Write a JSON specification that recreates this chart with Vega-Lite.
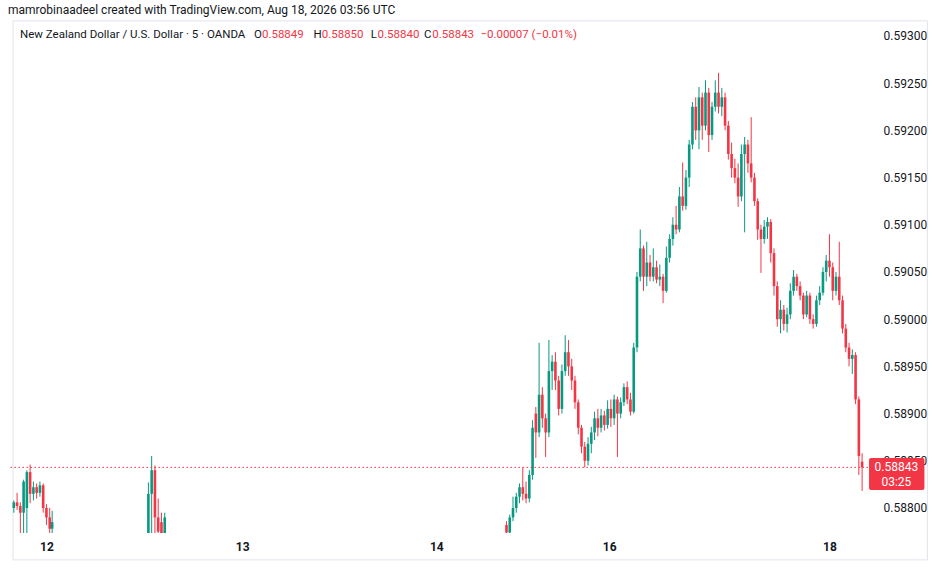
{
  "$schema": "https://vega.github.io/schema/vega-lite/v6.json",
  "width": 864,
  "height": 511,
  "autosize": {"type": "none"},
  "padding": {"left": 8, "top": 22, "right": 68, "bottom": 37},
  "background": "white",
  "title": {
    "text": "mamrobinaadeel created with TradingView.com, Aug 18, 2026 03:56 UTC",
    "anchor": "start",
    "frame": "group",
    "font": "Roboto",
    "fontSize": 12,
    "fontWeight": "normal",
    "color": "#131722",
    "offset": 3
  },
  "config": {"view": {"stroke": null}, "font": "Roboto"},
  "data": {
    "values": [
      {"t": -4.0, "o": 0.58800, "h": 0.58808, "l": 0.58795, "c": 0.58806},
      {"t": -3.6, "o": 0.58806, "h": 0.58816, "l": 0.58798, "c": 0.58802},
      {"t": -3.2, "o": 0.58802, "h": 0.58806, "l": 0.58770, "c": 0.58795},
      {"t": -2.8, "o": 0.58795, "h": 0.58830, "l": 0.58760, "c": 0.58828},
      {"t": -2.4, "o": 0.58800, "h": 0.58840, "l": 0.58760, "c": 0.58838},
      {"t": -2.0, "o": 0.58838, "h": 0.58846, "l": 0.58805, "c": 0.58815},
      {"t": -1.6, "o": 0.58815, "h": 0.58828, "l": 0.58808, "c": 0.58822},
      {"t": -1.2, "o": 0.58822, "h": 0.58826, "l": 0.58810, "c": 0.58816},
      {"t": -0.8, "o": 0.58816, "h": 0.58828, "l": 0.58812, "c": 0.58824},
      {"t": -0.4, "o": 0.58824, "h": 0.58826, "l": 0.58795, "c": 0.58800},
      {"t": 0.0, "o": 0.58800, "h": 0.58804, "l": 0.58782, "c": 0.58790},
      {"t": 0.4, "o": 0.58790, "h": 0.58800, "l": 0.58760, "c": 0.58778},
      {"t": 0.7, "o": 0.58778, "h": 0.58797, "l": 0.58760, "c": 0.58785},
      {"t": 12.5, "o": 0.58760, "h": 0.58827, "l": 0.58760, "c": 0.58815},
      {"t": 12.9, "o": 0.58815, "h": 0.58855, "l": 0.58770, "c": 0.58840},
      {"t": 13.3, "o": 0.58840, "h": 0.58845, "l": 0.58760, "c": 0.58790},
      {"t": 13.7, "o": 0.58790, "h": 0.58810, "l": 0.58760, "c": 0.58775},
      {"t": 14.1, "o": 0.58785, "h": 0.58795, "l": 0.58760, "c": 0.58770},
      {"t": 14.5, "o": 0.58770, "h": 0.58795, "l": 0.58760, "c": 0.58790},
      {"t": 56.4, "o": 0.58782, "h": 0.58786, "l": 0.58770, "c": 0.58774},
      {"t": 56.8, "o": 0.58774, "h": 0.58793, "l": 0.58770, "c": 0.58790},
      {"t": 57.2, "o": 0.58790, "h": 0.58812, "l": 0.58786, "c": 0.58800},
      {"t": 57.6, "o": 0.58800, "h": 0.58816, "l": 0.58795, "c": 0.58812},
      {"t": 58.0, "o": 0.58812, "h": 0.58826, "l": 0.58805, "c": 0.58822},
      {"t": 58.4, "o": 0.58822, "h": 0.58843, "l": 0.58808, "c": 0.58815},
      {"t": 58.8, "o": 0.58815, "h": 0.58828, "l": 0.58805, "c": 0.58810},
      {"t": 59.2, "o": 0.58810, "h": 0.58840, "l": 0.58806, "c": 0.58835},
      {"t": 59.6, "o": 0.58835, "h": 0.58893, "l": 0.58830, "c": 0.58885},
      {"t": 60.0, "o": 0.58900, "h": 0.58907, "l": 0.58853, "c": 0.58880},
      {"t": 60.4, "o": 0.58880, "h": 0.58975, "l": 0.58875, "c": 0.58920},
      {"t": 60.8, "o": 0.58920, "h": 0.58928, "l": 0.58885, "c": 0.58895},
      {"t": 61.2, "o": 0.58895, "h": 0.58900, "l": 0.58854, "c": 0.58880},
      {"t": 61.6, "o": 0.58880, "h": 0.58978, "l": 0.58875, "c": 0.58945},
      {"t": 62.0, "o": 0.58945, "h": 0.58962, "l": 0.58925, "c": 0.58955},
      {"t": 62.4, "o": 0.58955, "h": 0.58965, "l": 0.58925, "c": 0.58935},
      {"t": 62.8, "o": 0.58935, "h": 0.58940, "l": 0.58898, "c": 0.58905},
      {"t": 63.2, "o": 0.58905, "h": 0.58952, "l": 0.58900, "c": 0.58945},
      {"t": 63.6, "o": 0.58945, "h": 0.58983, "l": 0.58940, "c": 0.58965},
      {"t": 64.0, "o": 0.58965, "h": 0.58978, "l": 0.58940, "c": 0.58950},
      {"t": 64.4, "o": 0.58950, "h": 0.58958, "l": 0.58925, "c": 0.58935},
      {"t": 64.8, "o": 0.58935, "h": 0.58940, "l": 0.58905, "c": 0.58912},
      {"t": 65.2, "o": 0.58912, "h": 0.58915, "l": 0.58878, "c": 0.58885},
      {"t": 65.6, "o": 0.58885, "h": 0.58888, "l": 0.58858, "c": 0.58865},
      {"t": 66.0, "o": 0.58865, "h": 0.58870, "l": 0.58843, "c": 0.58850},
      {"t": 66.4, "o": 0.58850, "h": 0.58875, "l": 0.58845, "c": 0.58868},
      {"t": 66.8, "o": 0.58868, "h": 0.58886, "l": 0.58858, "c": 0.58880},
      {"t": 67.2, "o": 0.58880, "h": 0.58902, "l": 0.58872, "c": 0.58895},
      {"t": 67.6, "o": 0.58895, "h": 0.58905, "l": 0.58876, "c": 0.58885},
      {"t": 68.0, "o": 0.58885, "h": 0.58905, "l": 0.58880, "c": 0.58898},
      {"t": 68.4, "o": 0.58898, "h": 0.58903, "l": 0.58882, "c": 0.58888},
      {"t": 68.8, "o": 0.58888, "h": 0.58914, "l": 0.58884, "c": 0.58905},
      {"t": 69.2, "o": 0.58905, "h": 0.58915, "l": 0.58886, "c": 0.58895},
      {"t": 69.6, "o": 0.58895, "h": 0.58920, "l": 0.58888, "c": 0.58915},
      {"t": 70.0, "o": 0.58915, "h": 0.58918, "l": 0.58854, "c": 0.58900},
      {"t": 70.4, "o": 0.58900, "h": 0.58917, "l": 0.58895, "c": 0.58912},
      {"t": 70.8, "o": 0.58912, "h": 0.58932, "l": 0.58908, "c": 0.58928},
      {"t": 71.2, "o": 0.58928, "h": 0.58934, "l": 0.58910, "c": 0.58915},
      {"t": 71.6, "o": 0.58915, "h": 0.58922, "l": 0.58898, "c": 0.58902},
      {"t": 72.0, "o": 0.58902, "h": 0.58975, "l": 0.58900, "c": 0.58970},
      {"t": 72.4, "o": 0.58970, "h": 0.59050, "l": 0.58965, "c": 0.59045},
      {"t": 72.8, "o": 0.59045, "h": 0.59095, "l": 0.59040, "c": 0.59075},
      {"t": 73.2, "o": 0.59075, "h": 0.59078, "l": 0.59030, "c": 0.59045},
      {"t": 73.6, "o": 0.59045, "h": 0.59082, "l": 0.59035, "c": 0.59060},
      {"t": 74.0, "o": 0.59060, "h": 0.59068, "l": 0.59040, "c": 0.59045},
      {"t": 74.4, "o": 0.59045, "h": 0.59075, "l": 0.59040, "c": 0.59055},
      {"t": 74.8, "o": 0.59055, "h": 0.59062, "l": 0.59038, "c": 0.59042},
      {"t": 75.2, "o": 0.59042, "h": 0.59058, "l": 0.59035, "c": 0.59045},
      {"t": 75.6, "o": 0.59045, "h": 0.59048, "l": 0.59017, "c": 0.59030},
      {"t": 76.0, "o": 0.59030, "h": 0.59077, "l": 0.59028, "c": 0.59065},
      {"t": 76.4, "o": 0.59065, "h": 0.59090, "l": 0.59060, "c": 0.59085},
      {"t": 76.8, "o": 0.59085, "h": 0.59108, "l": 0.59078, "c": 0.59100},
      {"t": 77.2, "o": 0.59100, "h": 0.59120, "l": 0.59090, "c": 0.59095},
      {"t": 77.6, "o": 0.59095, "h": 0.59140, "l": 0.59092, "c": 0.59130},
      {"t": 78.0, "o": 0.59130, "h": 0.59166, "l": 0.59115, "c": 0.59120},
      {"t": 78.4, "o": 0.59120, "h": 0.59158, "l": 0.59116, "c": 0.59150},
      {"t": 78.8, "o": 0.59150, "h": 0.59190, "l": 0.59140, "c": 0.59185},
      {"t": 79.2, "o": 0.59185, "h": 0.59230, "l": 0.59180, "c": 0.59225},
      {"t": 79.6, "o": 0.59225, "h": 0.59235, "l": 0.59190, "c": 0.59200},
      {"t": 80.0, "o": 0.59200, "h": 0.59246, "l": 0.59180, "c": 0.59235},
      {"t": 80.4, "o": 0.59235, "h": 0.59240, "l": 0.59190, "c": 0.59205},
      {"t": 80.8, "o": 0.59205, "h": 0.59253, "l": 0.59200, "c": 0.59240},
      {"t": 81.2, "o": 0.59240, "h": 0.59245, "l": 0.59177, "c": 0.59195},
      {"t": 81.6, "o": 0.59195, "h": 0.59230, "l": 0.59190, "c": 0.59225},
      {"t": 82.0, "o": 0.59225, "h": 0.59253, "l": 0.59220, "c": 0.59240},
      {"t": 82.4, "o": 0.59240, "h": 0.59261, "l": 0.59218, "c": 0.59225},
      {"t": 82.8, "o": 0.59225, "h": 0.59245, "l": 0.59215, "c": 0.59235},
      {"t": 83.2, "o": 0.59235, "h": 0.59240, "l": 0.59200, "c": 0.59205},
      {"t": 83.6, "o": 0.59205, "h": 0.59210, "l": 0.59169, "c": 0.59175},
      {"t": 84.0, "o": 0.59175, "h": 0.59187, "l": 0.59150, "c": 0.59160},
      {"t": 84.4, "o": 0.59160, "h": 0.59170, "l": 0.59144, "c": 0.59150},
      {"t": 84.8, "o": 0.59150, "h": 0.59165, "l": 0.59119, "c": 0.59130},
      {"t": 85.2, "o": 0.59130, "h": 0.59185, "l": 0.59125, "c": 0.59175},
      {"t": 85.6, "o": 0.59175, "h": 0.59193, "l": 0.59092, "c": 0.59185},
      {"t": 86.0, "o": 0.59185, "h": 0.59190, "l": 0.59155, "c": 0.59165},
      {"t": 86.4, "o": 0.59165, "h": 0.59214, "l": 0.59145, "c": 0.59150},
      {"t": 86.8, "o": 0.59150, "h": 0.59155, "l": 0.59120, "c": 0.59125},
      {"t": 87.2, "o": 0.59125, "h": 0.59128, "l": 0.59084, "c": 0.59095},
      {"t": 87.6, "o": 0.59095, "h": 0.59100, "l": 0.59049, "c": 0.59085},
      {"t": 88.0, "o": 0.59085, "h": 0.59105, "l": 0.59080, "c": 0.59098},
      {"t": 88.4, "o": 0.59098, "h": 0.59108, "l": 0.59085, "c": 0.59103},
      {"t": 88.8, "o": 0.59103, "h": 0.59106, "l": 0.59060, "c": 0.59070},
      {"t": 89.2, "o": 0.59070, "h": 0.59075, "l": 0.59025, "c": 0.59035},
      {"t": 89.6, "o": 0.59035, "h": 0.59040, "l": 0.58992, "c": 0.59000},
      {"t": 90.0, "o": 0.59000, "h": 0.59020, "l": 0.58985, "c": 0.59010},
      {"t": 90.4, "o": 0.59010, "h": 0.59015, "l": 0.58988, "c": 0.58995},
      {"t": 90.8, "o": 0.58995, "h": 0.59012, "l": 0.58986, "c": 0.59005},
      {"t": 91.2, "o": 0.59005, "h": 0.59038, "l": 0.59000, "c": 0.59030},
      {"t": 91.6, "o": 0.59030, "h": 0.59052, "l": 0.59025, "c": 0.59045},
      {"t": 92.0, "o": 0.59045, "h": 0.59048, "l": 0.59030, "c": 0.59035},
      {"t": 92.4, "o": 0.59035, "h": 0.59040, "l": 0.59020, "c": 0.59025},
      {"t": 92.8, "o": 0.59025, "h": 0.59028, "l": 0.59000, "c": 0.59005},
      {"t": 93.2, "o": 0.59005, "h": 0.59030, "l": 0.59002, "c": 0.59025},
      {"t": 93.6, "o": 0.59025, "h": 0.59028, "l": 0.58995, "c": 0.59000},
      {"t": 94.0, "o": 0.59000, "h": 0.59005, "l": 0.58990, "c": 0.58995},
      {"t": 94.4, "o": 0.58995, "h": 0.59025, "l": 0.58992, "c": 0.59020},
      {"t": 94.8, "o": 0.59020, "h": 0.59035, "l": 0.59015, "c": 0.59028},
      {"t": 95.2, "o": 0.59028, "h": 0.59055, "l": 0.59025, "c": 0.59050},
      {"t": 95.6, "o": 0.59050, "h": 0.59068, "l": 0.59040, "c": 0.59062},
      {"t": 96.0, "o": 0.59062, "h": 0.59090, "l": 0.59045, "c": 0.59055},
      {"t": 96.4, "o": 0.59055, "h": 0.59060, "l": 0.59020, "c": 0.59030},
      {"t": 96.8, "o": 0.59030, "h": 0.59050, "l": 0.59025, "c": 0.59045},
      {"t": 97.2, "o": 0.59045, "h": 0.59082, "l": 0.59015, "c": 0.59020},
      {"t": 97.6, "o": 0.59020, "h": 0.59025, "l": 0.58985, "c": 0.58990},
      {"t": 98.0, "o": 0.58990, "h": 0.58995, "l": 0.58965, "c": 0.58970},
      {"t": 98.4, "o": 0.58970, "h": 0.58975, "l": 0.58950, "c": 0.58958},
      {"t": 98.8, "o": 0.58958, "h": 0.58968, "l": 0.58942, "c": 0.58962},
      {"t": 99.2, "o": 0.58962, "h": 0.58965, "l": 0.58910, "c": 0.58915},
      {"t": 99.6, "o": 0.58915, "h": 0.58918, "l": 0.58835, "c": 0.58855},
      {"t": 100.0, "o": 0.58849, "h": 0.58858, "l": 0.58818, "c": 0.58843}
    ]
  },
  "layer": [
    {
      "data": {"values": [{}]},
      "mark": {"type": "rect", "fill": "transparent", "stroke": "#e0e3eb", "strokeWidth": 1, "clip": false},
      "encoding": {
        "x": {"datum": -4.1},
        "x2": {"datum": 108.0},
        "y": {"datum": 0.59316},
        "y2": {"datum": 0.58745}
      }
    },
    {
      "mark": {"type": "rule", "strokeWidth": 1, "clip": true},
      "encoding": {
        "x": {
          "field": "t",
          "type": "quantitative",
          "scale": {"domain": [-4.1, 100.6], "nice": false, "zero": false},
          "axis": {
            "title": null,
            "values": [0, 24, 47.8, 69, 96],
            "labelExpr": "datum.value < 12 ? '12' : datum.value < 36 ? '13' : datum.value < 58 ? '14' : datum.value < 82 ? '16' : '18'",
            "domain": false,
            "ticks": false,
            "labelPadding": 8,
            "labelFont": "Roboto",
            "labelFontSize": 12,
            "labelFontWeight": "bold",
            "labelColor": "#131722",
            "gridColor": "#eef0f4",
            "gridWidth": 1
          }
        },
        "y": {
          "field": "l",
          "type": "quantitative",
          "scale": {"domain": [0.587735, 0.593148], "nice": false, "zero": false},
          "axis": {
            "title": null,
            "orient": "right",
            "values": [0.588, 0.5885, 0.589, 0.5895, 0.59, 0.5905, 0.591, 0.5915, 0.592, 0.5925, 0.593],
            "format": ".5f",
            "domain": false,
            "ticks": false,
            "labelPadding": 11,
            "labelFont": "Roboto",
            "labelFontSize": 12,
            "labelColor": "#131722",
            "gridColor": "#eef0f4",
            "gridWidth": 1
          }
        },
        "y2": {"field": "h"},
        "color": {"condition": {"test": "datum.c >= datum.o", "value": "#089981"}, "value": "#F23645"}
      }
    },
    {
      "mark": {"type": "bar", "width": 2.6, "clip": true},
      "encoding": {
        "x": {"field": "t", "type": "quantitative"},
        "y": {"field": "o", "type": "quantitative"},
        "y2": {"field": "c"},
        "color": {"condition": {"test": "datum.c >= datum.o", "value": "#089981"}, "value": "#F23645"}
      }
    },
    {
      "data": {"values": [{}]},
      "mark": {"type": "rule", "color": "#F23645", "strokeWidth": 1, "strokeDash": [1.5, 2.5]},
      "encoding": {"y": {"datum": 0.58843}}
    },
    {
      "data": {"values": [{}]},
      "mark": {"type": "rect", "fill": "#F23645", "cornerRadius": 2, "clip": false},
      "encoding": {
        "x": {"datum": 100.85},
        "x2": {"datum": 107.64},
        "y": {"datum": 0.58853},
        "y2": {"datum": 0.58819}
      }
    },
    {
      "data": {"values": [{}]},
      "mark": {"type": "text", "color": "white", "font": "Roboto", "fontSize": 12, "align": "center", "baseline": "middle"},
      "encoding": {"x": {"datum": 104.2}, "y": {"datum": 0.58843}, "text": {"value": "0.58843"}}
    },
    {
      "data": {"values": [{}]},
      "mark": {"type": "text", "color": "white", "font": "Roboto", "fontSize": 12, "align": "center", "baseline": "middle"},
      "encoding": {"x": {"datum": 104.2}, "y": {"datum": 0.588275}, "text": {"value": "03:25"}}
    },
    {
      "data": {"values": [{}]},
      "mark": {"type": "text", "color": "#131722", "font": "Roboto", "fontSize": 11.5, "align": "left", "baseline": "middle"},
      "encoding": {"x": {"datum": -3.24}, "y": {"datum": 0.59301}, "text": {"value": "New Zealand Dollar / U.S. Dollar · 5 · OANDA"}}
    },
    {
      "data": {"values": [{}]},
      "mark": {"type": "text", "color": "#131722", "font": "Roboto", "fontSize": 11.5, "align": "left", "baseline": "middle"},
      "encoding": {"x": {"datum": 25.45}, "y": {"datum": 0.59301}, "text": {"value": "O"}}
    },
    {
      "data": {"values": [{}]},
      "mark": {"type": "text", "color": "#F23645", "font": "Roboto", "fontSize": 11.5, "align": "left", "baseline": "middle"},
      "encoding": {"x": {"datum": 26.42}, "y": {"datum": 0.59301}, "text": {"value": "0.58849"}}
    },
    {
      "data": {"values": [{}]},
      "mark": {"type": "text", "color": "#131722", "font": "Roboto", "fontSize": 11.5, "align": "left", "baseline": "middle"},
      "encoding": {"x": {"datum": 32.73}, "y": {"datum": 0.59301}, "text": {"value": "H"}}
    },
    {
      "data": {"values": [{}]},
      "mark": {"type": "text", "color": "#F23645", "font": "Roboto", "fontSize": 11.5, "align": "left", "baseline": "middle"},
      "encoding": {"x": {"datum": 33.75}, "y": {"datum": 0.59301}, "text": {"value": "0.58850"}}
    },
    {
      "data": {"values": [{}]},
      "mark": {"type": "text", "color": "#131722", "font": "Roboto", "fontSize": 11.5, "align": "left", "baseline": "middle"},
      "encoding": {"x": {"datum": 39.76}, "y": {"datum": 0.59301}, "text": {"value": "L"}}
    },
    {
      "data": {"values": [{}]},
      "mark": {"type": "text", "color": "#F23645", "font": "Roboto", "fontSize": 11.5, "align": "left", "baseline": "middle"},
      "encoding": {"x": {"datum": 40.6}, "y": {"datum": 0.59301}, "text": {"value": "0.58840"}}
    },
    {
      "data": {"values": [{}]},
      "mark": {"type": "text", "color": "#131722", "font": "Roboto", "fontSize": 11.5, "align": "left", "baseline": "middle"},
      "encoding": {"x": {"datum": 46.3}, "y": {"datum": 0.59301}, "text": {"value": "C"}}
    },
    {
      "data": {"values": [{}]},
      "mark": {"type": "text", "color": "#F23645", "font": "Roboto", "fontSize": 11.5, "align": "left", "baseline": "middle"},
      "encoding": {"x": {"datum": 47.3}, "y": {"datum": 0.59301}, "text": {"value": "0.58843"}}
    },
    {
      "data": {"values": [{}]},
      "mark": {"type": "text", "color": "#F23645", "font": "Roboto", "fontSize": 11.5, "align": "left", "baseline": "middle"},
      "encoding": {"x": {"datum": 53.2}, "y": {"datum": 0.59301}, "text": {"value": "−0.00007 (−0.01%)"}}
    }
  ]
}
